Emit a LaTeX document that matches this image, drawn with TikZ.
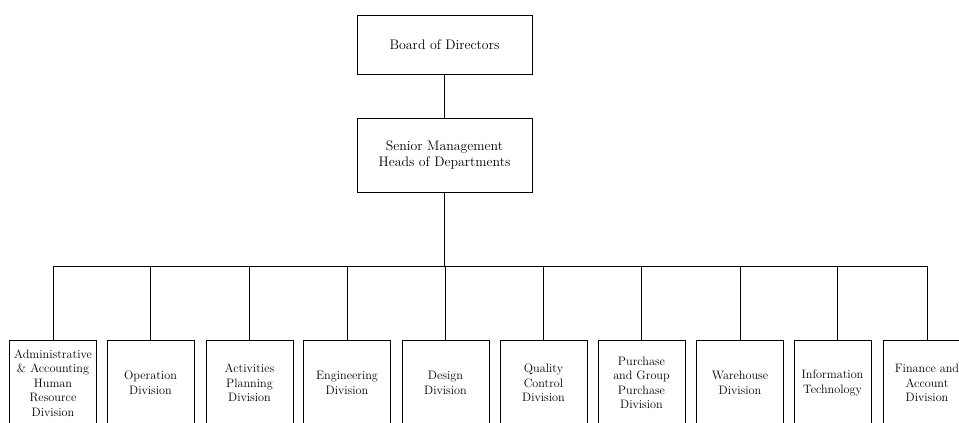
\documentclass[tikz,border=0pt]{standalone}
\begin{document}
\begin{tikzpicture}[x=1pt,y=-1pt,
  box/.style={draw,line width=0.7pt,align=center,inner sep=0pt,font=\fontsize{12.2}{14.5}\selectfont},
  topbox/.style={box,minimum width=175,font=\fontsize{13.8}{16.7}\selectfont},
  divbox/.style={box,minimum width=87,minimum height=86},
  link/.style={line width=0.7pt}]
\useasboundingbox (0,0) rectangle (959,423);
\clip (0,0) rectangle (959,423);
\node[topbox,minimum height=59] (board) at (444.5,44.5) {Board of Directors};
\node[topbox,minimum height=74] (senior) at (444.5,155) {Senior Management\\Heads of Departments};
\coordinate (bar) at (444.5,266);
\node[divbox] (d1) at (53,383) {Administrative\\\& Accounting\\Human\\Resource\\Division};
\node[divbox] (d2) at (150.5,383) {Operation\\Division};
\node[divbox] (d3) at (249.5,383) {Activities\\Planning\\Division};
\node[divbox] (d4) at (347,383) {Engineering\\Division};
\node[divbox] (d5) at (445.5,383) {Design\\Division};
\node[divbox] (d6) at (543.5,383) {Quality\\Control\\Division};
\node[divbox] (d7) at (641.5,383) {Purchase\\and Group\\Purchase\\Division};
\node[divbox] (d8) at (740,383) {Warehouse\\Division};
\node[divbox,minimum width=77] (d9) at (832.5,383) {Information\\Technology};
\node[divbox] (d10) at (927,383) {Finance and\\Account\\Division};
\draw[link] (board) -- (senior);
\draw[link] (senior) -- (bar);
\coordinate (l1) at (d1.north |- bar);
\coordinate (l10) at (d10.north |- bar);
\draw[link] (l1) -- (l10);
\foreach \i in {1,...,8,10} {\draw[link] (d\i.north |- bar) -- (d\i.north);}
\draw[link] ([xshift=5]d9.north |- bar) -- ([xshift=5]d9.north);
\end{tikzpicture}
\end{document}
